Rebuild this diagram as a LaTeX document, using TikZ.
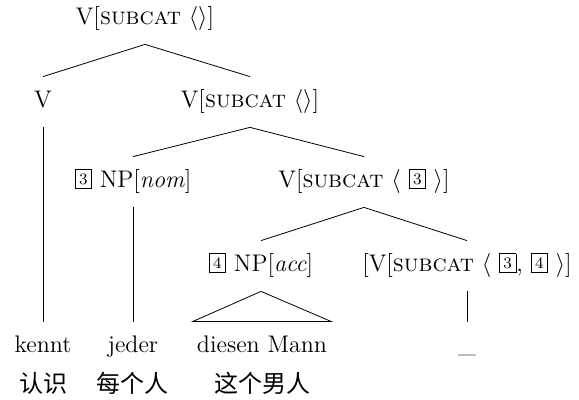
\documentclass[tikz,border=0pt]{standalone}
\usepackage{fontspec}
\newfontfamily\cjk{Noto Sans CJK SC}
\usetikzlibrary{positioning}
\newcommand{\tagnum}[1]{\raisebox{1.8pt}{\setlength{\fboxsep}{1.8pt}\fbox{\fontsize{8}{9}\selectfont #1}}}
\newcommand{\subcat}{\textsc{subcat}}
\tikzset{
  cat/.style={font=\fontsize{12}{14}\selectfont, text height=9pt, text depth=3pt, inner xsep=2pt, inner ysep=6.5pt, anchor=base},
  gloss/.style={font=\fontsize{12}{14}\selectfont\cjk, inner sep=0pt},
}

\begin{document}
\begin{tikzpicture}[x=0.5pt,y=-0.5pt]
    \useasboundingbox (0,0) rectangle (579,400);
    %radice
    \node[cat] (root) at (145,25) {V[\subcat\ $\langle\rangle$]};
    %secondo livello
    \node[cat] (v) at (43,108) {V};
    \node[cat] (vsub) at (250,108) {V[\subcat\ $\langle\rangle$]};
    %terzo livello
    \node[cat] (npnom) at (133,188) {\tagnum{3} NP[\textit{nom}]};
    \node[cat] (vsubthree) at (364,188) {V[\subcat\ $\langle$ \tagnum{3} $\rangle$]};
    %quarto livello
    \node[cat] (npacc) at (261,272) {\tagnum{4} NP[\textit{acc}]};
    \node[cat] (vsubfour) at (467,272) {[V[\subcat\ $\langle$ \tagnum{3}, \tagnum{4} $\rangle$]};
    %foglie
    \node[cat] (kennt) at (43,353) {kennt};
    \node[cat] (jeder) at (133,353) {jeder};
    \node[cat] (dm) at (262,353) {diesen Mann};
    \node[cat] (trace) at (467,353) {\_};
    %traduzioni
    \node[gloss] (renshi) at (43,383) {认识};
    \node[gloss] (meigeren) at (133,383) {每个人};
    \node[gloss] (zhegenanren) at (262,383) {这个男人};
    %rami
    \draw (root.south) -- (v.north);
    \draw (root.south) -- (vsub.north);
    \draw (vsub.south) -- (npnom.north);
    \draw (vsub.south) -- (vsubthree.north);
    \draw (vsubthree.south) -- (npacc.north);
    \draw (vsubthree.south) -- (vsubfour.north);
    \draw (v.south) -- (kennt.north);
    \draw (npnom.south) -- (jeder.north);
    \draw (npacc.south) -- (dm.north west) -- (dm.north east) -- cycle;
    \draw (vsubfour.south) -- (trace.north);
\end{tikzpicture}
\end{document}
